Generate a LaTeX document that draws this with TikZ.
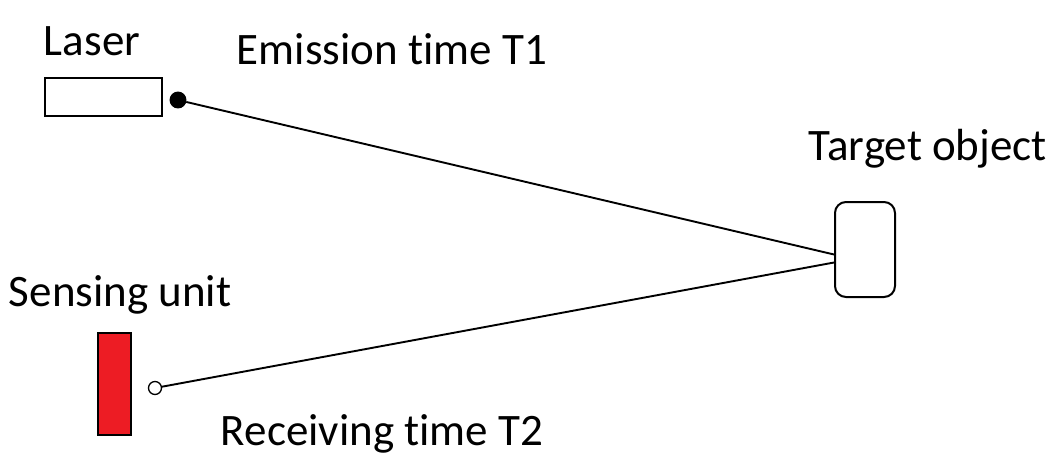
\documentclass[tikz,border=0pt]{standalone}
\usepackage{fontspec}
\setmainfont{Carlito}[Ligatures=NoCommon]
\usetikzlibrary{arrows,positioning}
\definecolor{unitred}{RGB}{237,28,36}

\begin{document}
\begin{tikzpicture}[x=1pt,y=-1pt,line width=1.9pt,
      text node/.style={font=\fontsize{45}{54}\selectfont,inner sep=0pt,anchor=base west},
      box node/.style={draw,line width=2pt,inner sep=0pt},
      dot node/.style={circle,draw,inner sep=0pt,minimum size=13pt}]
    \useasboundingbox (0,0) rectangle (1055,456);

    \node[box node,minimum width=117pt,minimum height=38pt] (laser) at (103.5,97) {};
    \node[box node,rounded corners=11pt,minimum width=60pt,minimum height=95pt] (target) at (865,249.5) {};
    \node[box node,fill=unitred,minimum width=33pt,minimum height=102pt] (sensor) at (114.5,384) {};

    \node[dot node,fill=black,minimum size=15pt] (emit) at (178,100) {};
    \node[dot node,fill=white,line width=1.3pt,minimum size=13pt] (recv) at (155,388) {};

    \coordinate (hit1) at ([yshift=-5pt]target.west);
    \coordinate (hit2) at ([yshift=-13pt]target.west);

    \node[text node] (lasertxt) at (43,55) {Laser};
    \node[text node] (emittxt) at (236,64) {Emission time T1};
    \node[text node] (targettxt) at (808,160) {Target object};
    \node[text node] (sensortxt) at (8,306) {Sensing unit};
    \node[text node] (recvtxt) at (220,445) {Receiving time T2};

    \draw (emit) -- (hit1);
    \draw (hit2) -- (recv);
\end{tikzpicture}
\end{document}
